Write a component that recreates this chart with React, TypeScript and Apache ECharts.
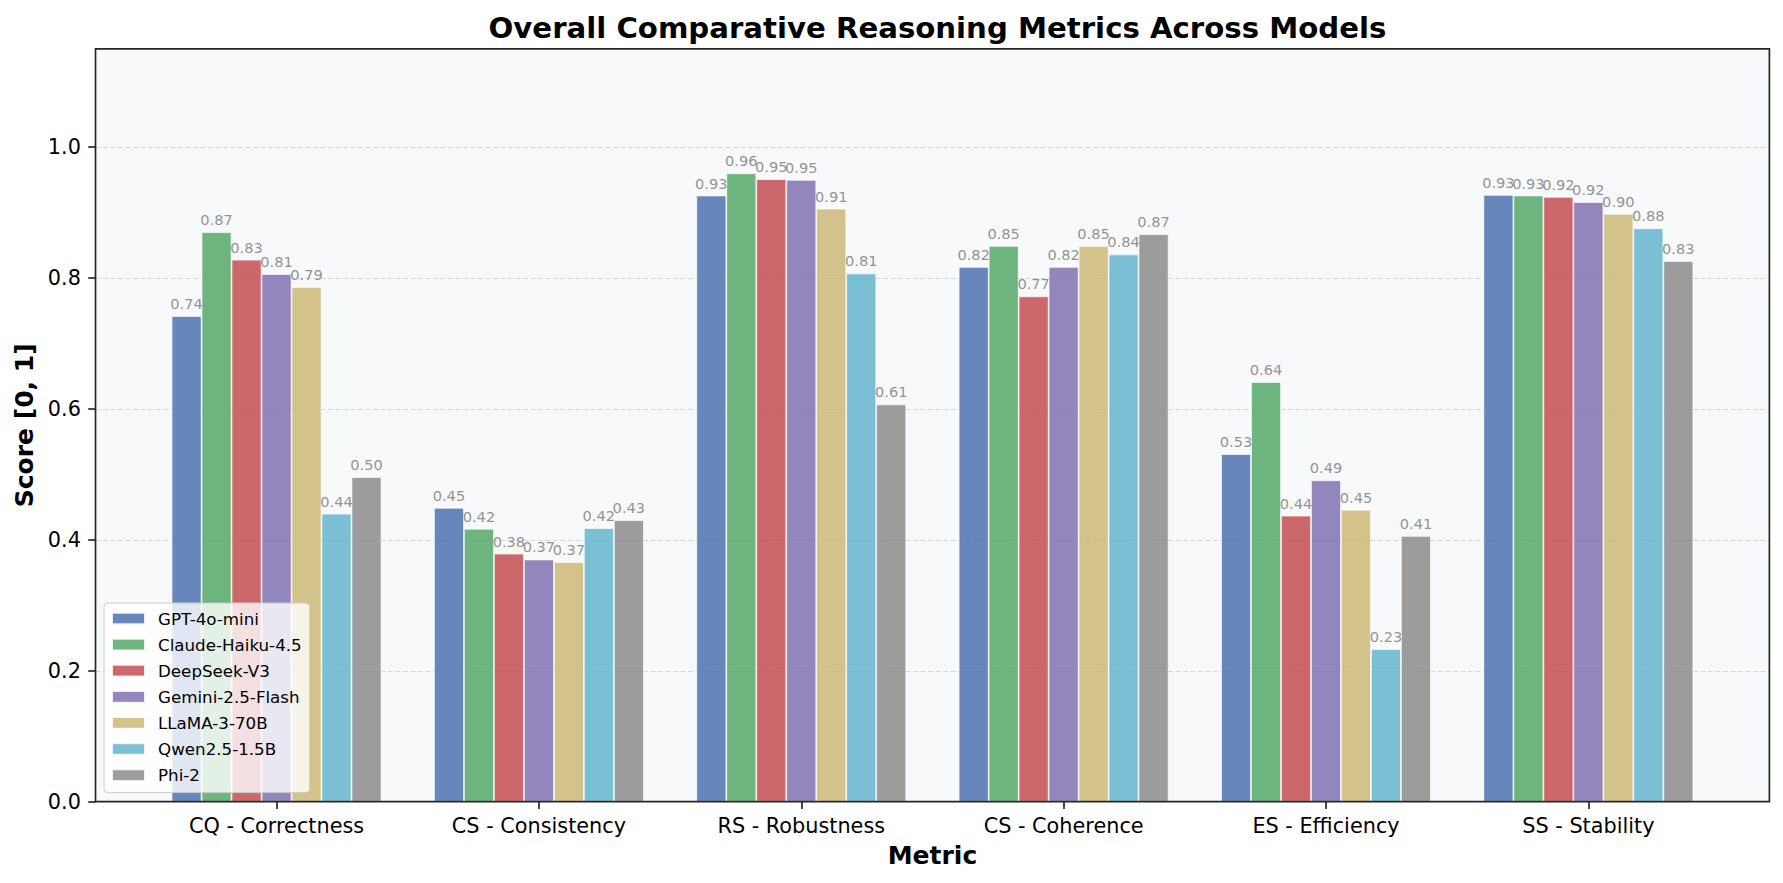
import React, { useEffect, useRef } from "react";
import * as echarts from "echarts";

const metrics = [
  "CQ - Correctness",
  "CS - Consistency",
  "RS - Robustness",
  "CS - Coherence",
  "ES - Efficiency",
  "SS - Stability",
];
const models = [
  "GPT-4o-mini",
  "Claude-Haiku-4.5",
  "DeepSeek-V3",
  "Gemini-2.5-Flash",
  "LLaMA-3-70B",
  "Qwen2.5-1.5B",
  "Phi-2",
];
const modelColors = ["#4C72B0", "#55A868", "#C44E52", "#8172B2", "#CCB974", "#64B5CD", "#8C8C8C"];

const gptScores = [0.742, 0.449, 0.926, 0.817, 0.531, 0.927];
const claudeScores = [0.87, 0.417, 0.96, 0.849, 0.641, 0.926];
const deepseekScores = [0.828, 0.379, 0.951, 0.772, 0.437, 0.924];
const geminiScores = [0.806, 0.37, 0.95, 0.817, 0.491, 0.916];
const llamaScores = [0.786, 0.366, 0.906, 0.849, 0.446, 0.898];
const qwenScores = [0.44, 0.418, 0.807, 0.836, 0.233, 0.876];
const phiScores = [0.496, 0.43, 0.607, 0.867, 0.406, 0.826];
const allScores = [gptScores, claudeScores, deepseekScores, geminiScores, llamaScores, qwenScores, phiScores];

const yTicks = [0, 0.2, 0.4, 0.6, 0.8, 1.0];
const yMax = 1.15;

const FONT = "DejaVu Sans";

export default function App() {
  const ref = useRef<HTMLDivElement>(null);
  useEffect(() => {
    const chart = echarts.init(ref.current!, null, { renderer: "svg" });
    const plotL = 95.5, plotT = 48.9, plotR = 1769.4, plotB = 801.7;
    const plotW = plotR - plotL, plotH = plotB - plotT;
    const unit = plotW / 6.38;
    const bandLeft = plotL + 0.19 * unit;
    const barW = (0.8 / 7) * unit;
    const dark = "#262626";

    const series = models.map((m, i) => ({
      type: "bar",
      name: m,
      xAxisIndex: 1,
      yAxisIndex: 1,
      data: allScores[i],
      barWidth: barW,
      barGap: "0%",
      itemStyle: { color: modelColors[i], opacity: 0.85, borderColor: "#ffffff", borderWidth: 0.8 },
      label: {
        show: true,
        position: "top",
        distance: 5,
        formatter: (p: any) => Number(p.value).toFixed(2),
        color: "#808080",
        fontSize: 14.6,
        fontFamily: FONT,
      },
      emphasis: { disabled: true },
    }));

    const option: any = {
      animation: false,
      backgroundColor: "#ffffff",
      title: {
        text: "Overall Comparative Reasoning Metrics Across Models",
        left: (plotL + plotR) / 2,
        textAlign: "center",
        top: 8,
        textStyle: { fontSize: 29.2, fontWeight: "bold", color: "#000", fontFamily: FONT },
      },
      legend: {
        orient: "vertical",
        left: 104,
        top: 603,
        icon: "rect",
        itemWidth: 33,
        itemHeight: 11.7,
        itemGap: 9.1,
        padding: [7, 8, 9, 7],
        backgroundColor: "rgba(255,255,255,0.8)",
        borderColor: "#cccccc",
        borderWidth: 1,
        borderRadius: 4,
        selectedMode: false,
        textStyle: { fontSize: 16.7, color: "#000", fontFamily: FONT, padding: [0, 0, 0, 8] },
        data: models,
      },
      grid: [
        {
          left: plotL,
          top: plotT,
          width: plotW,
          height: plotH,
          show: true,
          backgroundColor: "#F8F9FA",
          borderWidth: 0,
          containLabel: false,
          outerBoundsMode: "none",
        },
        {
          left: bandLeft,
          top: plotT,
          width: 6 * unit,
          height: plotH,
          containLabel: false,
          outerBoundsMode: "none",
        },
      ],
      xAxis: [
        { type: "value", gridIndex: 0, min: 0, max: 1, show: false },
        {
          type: "category",
          gridIndex: 1,
          data: metrics,
          axisLine: { show: false },
          axisTick: { show: true, alignWithLabel: true, length: 7.3, lineStyle: { color: dark, width: 1.67 } },
          axisLabel: { fontSize: 20.8, color: "#000", fontFamily: FONT, margin: 14 },
          name: "Metric",
          nameLocation: "middle",
          nameGap: 41,
          nameTextStyle: { fontSize: 25, fontWeight: "bold", color: "#000", fontFamily: FONT },
          splitLine: { show: false },
        },
      ],
      yAxis: [
        {
          type: "value",
          gridIndex: 0,
          min: 0,
          max: yMax,
          interval: 0.2,
          axisLine: { show: false },
          axisTick: { show: true, length: 7.3, lineStyle: { color: dark, width: 1.67 }, customValues: yTicks },
          axisLabel: {
            fontSize: 20.8,
            color: "#000",
            fontFamily: FONT,
            margin: 14.6,
            customValues: yTicks,
            formatter: (v: number) => v.toFixed(1),
          },
          splitLine: { show: true, lineStyle: { color: "#d6d6d6", type: [5, 2.5], width: 1.1 } },
          name: "Score [0, 1]",
          nameLocation: "middle",
          nameRotate: 90,
          nameGap: 58,
          nameTextStyle: { fontSize: 25, fontWeight: "bold", color: "#000", fontFamily: FONT },
        },
        { type: "value", gridIndex: 1, min: 0, max: yMax, show: false },
      ],
      series,
      graphic: [
        {
          type: "rect",
          silent: true,
          z: 100,
          shape: { x: plotL, y: plotT, width: plotW, height: plotH },
          style: { fill: "none", stroke: dark, lineWidth: 1.7 },
        },
      ],
    };
    chart.setOption(option);
    return () => chart.dispose();
  }, []);
  return (
    <div
      ref={ref}
      style={{ position: "fixed", left: 0, top: 0, width: 1783, height: 883, background: "#fff" }}
    />
  );
}
